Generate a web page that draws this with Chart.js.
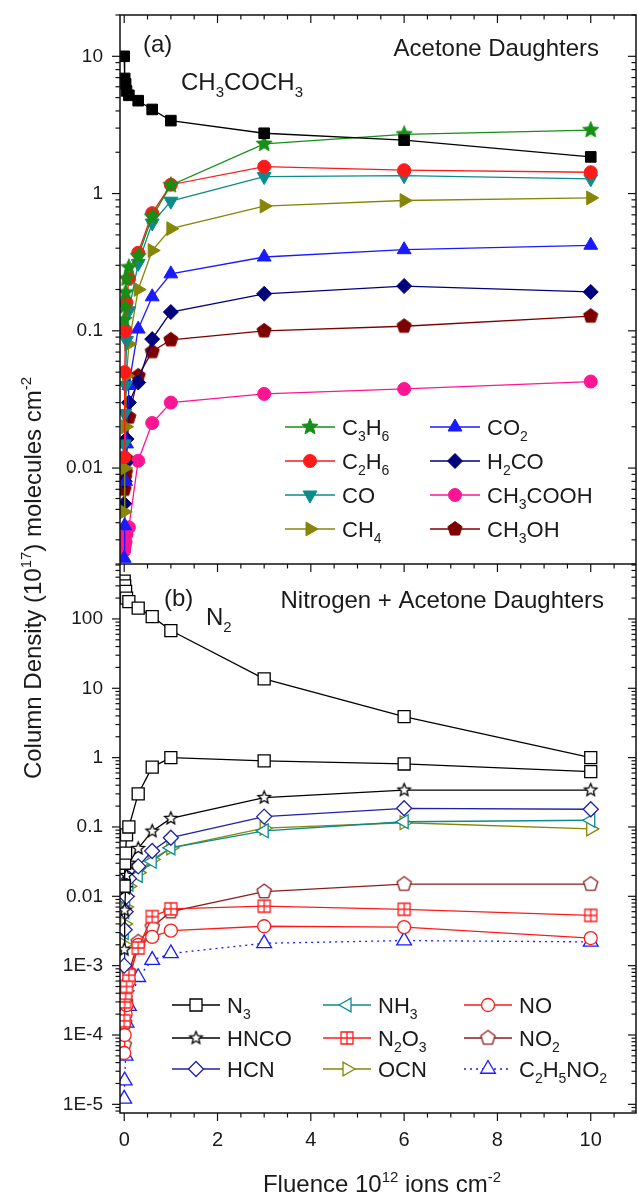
<!DOCTYPE html>
<html>
<head>
<meta charset="utf-8">
<script src="https://cdn.jsdelivr.net/npm/chart.js@4.4.1/dist/chart.umd.min.js"></script>
<style>
  html, body { margin: 0; padding: 0; background: #fff; }
  canvas { display: block; }
</style>
</head>
<body>
<canvas id="chart" width="638" height="1193"></canvas>
<script>
// fluence, 10^12 ions cm^-2
const fluence = [0, 0.01, 0.03, 0.05, 0.1, 0.3, 0.6, 1, 3, 6, 10];

// panel (a): acetone and its daughters, column density in 10^17 molecules cm^-2
const acetone = [10, 6.9, 6.3, 5.6, 5.2, 4.75, 4.1, 3.4, 2.75, 2.45, 1.85];
const c3h6 = [0.12, 0.15, 0.19, 0.24, 0.29, 0.35, 0.68, 1.15, 2.3, 2.7, 2.9];
const c2h6 = [0.012, 0.05, 0.1, 0.16, 0.24, 0.37, 0.72, 1.16, 1.57, 1.48, 1.43];
const co = [0.015, 0.025, 0.04, 0.085, 0.14, 0.31, 0.61, 0.88, 1.33, 1.35, 1.28];
const ch4 = [0.0048, 0.01, 0.02, 0.047, 0.08, 0.2, 0.385, 0.555, 0.81, 0.89, 0.93];
const co2 = [0.0022, 0.0038, 0.008, 0.015, 0.04, 0.103, 0.177, 0.26, 0.345, 0.39, 0.42];
const h2co = [0.0055, 0.008, 0.011, 0.0163, 0.03, 0.042, 0.087, 0.137, 0.186, 0.212, 0.192];
const ch3cooh = [0.0025, 0.0027, 0.0029, 0.0033, 0.0037, 0.0113, 0.0213, 0.03, 0.0347, 0.0377, 0.0427];
const ch3oh = [0.007, 0.0085, 0.0093, 0.0116, 0.0235, 0.047, 0.0706, 0.086, 0.1, 0.108, 0.128];

// panel (b): nitrogen + acetone daughters
const n2 = [350, 300, 250, 200, 178, 143, 108, 68, 13.7, 3.9, 1.0];
const n3 = [0.014, 0.03, 0.042, 0.077, 0.1, 0.3, 0.73, 1.0, 0.9, 0.81, 0.63];
const hnco = [0.0017, 0.0063, 0.013, 0.02, 0.03, 0.049, 0.087, 0.133, 0.265, 0.34, 0.34];
const hcn = [0.001, 0.0033, 0.006, 0.0099, 0.018, 0.027, 0.045, 0.07, 0.141, 0.186, 0.18];
const nh3 = [0.003, 0.006, 0.009, 0.012, 0.015, 0.02, 0.032, 0.05, 0.088, 0.119, 0.125];
const ocn = [0.002, 0.004, 0.007, 0.01, 0.014, 0.022, 0.034, 0.05, 0.096, 0.115, 0.094];
const n2o3 = [0.00016, 0.0003, 0.0004, 0.0005, 0.00073, 0.0018, 0.0051, 0.0066, 0.0072, 0.0065, 0.0053];
const no = [0.000055, 0.0001, 0.0002, 0.00027, 0.0006, 0.002, 0.0026, 0.0032, 0.0037, 0.0036, 0.0025];
const no2 = [0.000072, 0.00015, 0.0003, 0.0005, 0.0008, 0.0022, 0.0036, 0.006, 0.0117, 0.015, 0.015];
const c2h5no2 = [0.000012, 0.000022, 0.00005, 0.00015, 0.00026, 0.00068, 0.0012, 0.0015, 0.0021, 0.0023, 0.0022];

// axis ticks
const xTickStep = 2;
const xMinorStep = 0.5;

// legend columns, by dataset label
const legendA = [['C3H6', 'C2H6', 'CO', 'CH4'], ['CO2', 'H2CO', 'CH3COOH', 'CH3OH']];
const legendB = [['N3', 'HNCO', 'HCN'], ['NH3', 'N2O3', 'OCN'], ['NO', 'NO2', 'C2H5NO2']];

const FONT = "'Liberation Sans', Arial, sans-serif";
Chart.defaults.font.family = FONT;

// markers chart.js has no shape for
function markerCanvas(shape, r, stroke, fill, lw) {
  const size = Math.ceil(2 * r + lw + 2);
  const c = document.createElement('canvas');
  c.width = c.height = size;
  const g = c.getContext('2d');
  const cx = size / 2, cy = size / 2;
  g.beginPath();
  if (shape === 'star') {
    for (let i = 0; i < 10; i++) {
      const rr = i % 2 ? r * 0.45 : r;
      const a = -Math.PI / 2 + i * Math.PI / 5;
      g.lineTo(cx + rr * Math.cos(a), cy + rr * Math.sin(a));
    }
    g.closePath();
  } else if (shape === 'pentagon') {
    for (let i = 0; i < 5; i++) {
      const a = -Math.PI / 2 + i * 2 * Math.PI / 5;
      g.lineTo(cx + r * Math.cos(a), cy + r * Math.sin(a));
    }
    g.closePath();
  } else {
    g.rect(cx - r, cy - r, 2 * r, 2 * r);
  }
  g.fillStyle = fill;
  g.fill();
  g.lineWidth = lw;
  g.strokeStyle = stroke;
  g.stroke();
  if (shape === 'boxplus') {
    g.beginPath();
    g.moveTo(cx, cy - r); g.lineTo(cx, cy + r);
    g.moveTo(cx - r, cy); g.lineTo(cx + r, cy);
    g.stroke();
  }
  return c;
}

function ds(label, values, axis, color, mk, extra) {
  return Object.assign({
    label: label,
    data: fluence.map((x, i) => ({ x: x, y: values[i] })),
    yAxisID: axis,
    borderColor: color,
    borderWidth: 1.3,
    pointStyle: mk.style,
    pointRadius: mk.r,
    pointRotation: mk.rot || 0,
    pointBackgroundColor: mk.fill,
    pointBorderColor: color,
    pointBorderWidth: mk.lw,
    tension: 0
  }, extra || {});
}

const GREEN = '#158f15', RED = '#ff1a1a', TEAL = '#0b8b8b', OLIVE = '#868606';
const BLUE = '#1a1aff', NAVY = '#00007d', PINK = '#ff1493', MAROON = '#7d0000';

const datasets = [
  ds('CH3COCH3', acetone, 'yTop', '#000', { style: 'rect', r: 7.5, fill: '#000', lw: 1 }),
  ds('C3H6', c3h6, 'yTop', GREEN, { style: markerCanvas('star', 8.5, GREEN, GREEN, 1), r: 7, fill: GREEN, lw: 1 }),
  ds('C2H6', c2h6, 'yTop', RED, { style: 'circle', r: 6.5, fill: RED, lw: 1 }),
  ds('CO', co, 'yTop', TEAL, { style: 'triangle', r: 8, rot: 180, fill: TEAL, lw: 1 }),
  ds('CH4', ch4, 'yTop', OLIVE, { style: 'triangle', r: 8, rot: 90, fill: OLIVE, lw: 1 }),
  ds('CO2', co2, 'yTop', BLUE, { style: 'triangle', r: 8, fill: BLUE, lw: 1 }),
  ds('H2CO', h2co, 'yTop', NAVY, { style: 'rectRot', r: 7.5, fill: NAVY, lw: 1 }),
  ds('CH3COOH', ch3cooh, 'yTop', PINK, { style: 'circle', r: 6.5, fill: PINK, lw: 1 }),
  ds('CH3OH', ch3oh, 'yTop', MAROON, { style: markerCanvas('pentagon', 7.5, MAROON, MAROON, 1), r: 7, fill: MAROON, lw: 1 }),

  ds('N2', n2, 'yBot', '#000', { style: 'rect', r: 8.5, fill: '#fff', lw: 1.3 }),
  ds('N3', n3, 'yBot', '#000', { style: 'rect', r: 8.5, fill: '#fff', lw: 1.3 }),
  ds('HNCO', hnco, 'yBot', '#000', { style: markerCanvas('star', 6.5, '#000', '#fff', 1.3), r: 6, fill: '#fff', lw: 1.3 }),
  ds('HCN', hcn, 'yBot', '#2020a8', { style: 'rectRot', r: 7.5, fill: '#fff', lw: 1.3 }),
  ds('NH3', nh3, 'yBot', TEAL, { style: 'triangle', r: 8, rot: -90, fill: '#fff', lw: 1.3 }),
  ds('N2O3', n2o3, 'yBot', RED, { style: markerCanvas('boxplus', 6, RED, '#fff', 1.3), r: 6, fill: '#fff', lw: 1.3 }),
  ds('OCN', ocn, 'yBot', OLIVE, { style: 'triangle', r: 8, rot: 90, fill: '#fff', lw: 1.3 }),
  ds('NO', no, 'yBot', RED, { style: 'circle', r: 6.5, fill: '#fff', lw: 1.3 }),
  ds('NO2', no2, 'yBot', '#8a1c1c', { style: markerCanvas('pentagon', 7.5, '#8a1c1c', '#fff', 1.3), r: 7, fill: '#fff', lw: 1.3 }),
  ds('C2H5NO2', c2h5no2, 'yBot', BLUE, { style: 'triangle', r: 8.5, fill: '#fff', lw: 1.3 }, { borderDash: [2, 4] })
];

// rich text: ^{..} superscript, _{..} subscript, digits subscript in formulas
function parseRich(str, chem) {
  const out = [];
  const push = (t, k) => {
    const last = out[out.length - 1];
    if (last && last.k === k) last.t += t; else out.push({ t: t, k: k });
  };
  let i = 0;
  while (i < str.length) {
    const ch = str[i];
    if ((ch === '^' || ch === '_') && str[i + 1] === '{') {
      const j = str.indexOf('}', i);
      push(str.slice(i + 2, j), ch === '_' ? 1 : 2);
      i = j + 1;
    } else {
      push(ch, chem && /[0-9]/.test(ch) ? 1 : 0);
      i++;
    }
  }
  return out;
}

function drawRich(ctx, str, x, y, size, align, chem) {
  const runs = parseRich(str, chem);
  const small = Math.round(size * 0.62);
  let w = 0;
  runs.forEach(r => {
    ctx.font = (r.k ? small : size) + 'px ' + FONT;
    r.w = ctx.measureText(r.t).width;
    w += r.w;
  });
  let cx = align === 'right' ? x - w : align === 'center' ? x - w / 2 : x;
  ctx.textAlign = 'left';
  ctx.textBaseline = 'alphabetic';
  runs.forEach(r => {
    ctx.font = (r.k ? small : size) + 'px ' + FONT;
    const dy = r.k === 1 ? size * 0.28 : r.k === 2 ? -size * 0.42 : 0;
    ctx.fillText(r.t, cx, y + dy);
    cx += r.w;
  });
}

function line(ctx, x0, y0, x1, y1) {
  ctx.beginPath();
  ctx.moveTo(x0, y0);
  ctx.lineTo(x1, y1);
  ctx.stroke();
}

function drawMarker(ctx, d, x, y) {
  ctx.fillStyle = d.pointBackgroundColor;
  ctx.strokeStyle = d.pointBorderColor;
  ctx.lineWidth = d.pointBorderWidth;
  Chart.helpers.drawPoint(ctx, {
    pointStyle: d.pointStyle,
    rotation: d.pointRotation,
    radius: d.pointRadius,
    borderWidth: d.pointBorderWidth
  }, x, y);
}

function drawLegend(ctx, chart, columns, cols, rows, half) {
  const byLabel = {};
  chart.data.datasets.forEach(d => { byLabel[d.label] = d; });
  columns.forEach((col, ci) => {
    col.forEach((name, ri) => {
      const d = byLabel[name];
      const mx = cols[ci], y = rows[ri];
      ctx.save();
      ctx.strokeStyle = d.borderColor;
      ctx.lineWidth = d.borderWidth;
      ctx.setLineDash(d.borderDash || []);
      line(ctx, mx - half, y, mx + half, y);
      ctx.setLineDash([]);
      drawMarker(ctx, d, mx, y);
      ctx.fillStyle = '#1a1a1a';
      drawRich(ctx, name, mx + half + 7, y + 8, 22, 'left', true);
      ctx.restore();
    });
  });
}

const decor = {
  id: 'decor',
  afterDraw(chart) {
    const ctx = chart.ctx;
    const { left, right } = chart.chartArea;
    const xs = chart.scales.x, yt = chart.scales.yTop, yb = chart.scales.yBot;
    ctx.save();
    ctx.strokeStyle = '#111';
    ctx.lineWidth = 1.5;
    ctx.strokeRect(left, yt.top, right - left, yb.bottom - yt.top);
    line(ctx, left, yt.bottom, right, yt.bottom);

    ctx.lineWidth = 1.2;
    [yt, yb].forEach(s => {
      const e0 = Math.floor(Math.log10(s.min)), e1 = Math.ceil(Math.log10(s.max));
      for (let e = e0; e <= e1; e++) {
        for (let m = 1; m <= 9; m++) {
          const v = m * Math.pow(10, e);
          if (v < s.min || v > s.max) continue;
          const y = s.getPixelForValue(v);
          const len = m === 1 ? 8 : 4.5;
          line(ctx, left - len, y, left, y);
          line(ctx, right - len, y, right, y);
        }
      }
    });
    for (let k = 0; k * xMinorStep <= xs.max; k++) {
      const v = k * xMinorStep;
      const x = xs.getPixelForValue(v);
      const major = Math.abs(v / xTickStep - Math.round(v / xTickStep)) < 1e-9;
      const len = major ? 8 : 4.5;
      line(ctx, x, yb.bottom, x, yb.bottom + len);
      line(ctx, x, yt.bottom, x, yt.bottom + len);
      line(ctx, x, yt.top, x, yt.top + len);
    }

    ctx.fillStyle = '#1a1a1a';
    drawRich(ctx, '(a)', 143, 52, 24, 'left', false);
    drawRich(ctx, 'Acetone Daughters', 599, 56, 24, 'right', false);
    drawRich(ctx, 'CH3COCH3', 181, 90, 24, 'left', true);
    drawRich(ctx, '(b)', 164, 606, 24, 'left', false);
    drawRich(ctx, 'Nitrogen + Acetone Daughters', 604, 608, 24, 'right', false);
    drawRich(ctx, 'N2', 206, 625, 24, 'left', true);

    drawRich(ctx, 'Fluence 10^{12} ions cm^{-2}', (left + right) / 2 + 4, 1192, 24, 'center', false);
    ctx.save();
    ctx.translate(41, 578);
    ctx.rotate(-Math.PI / 2);
    drawRich(ctx, 'Column Density (10^{17}) molecules cm^{-2}', 0, 0, 24, 'center', false);
    ctx.restore();

    drawLegend(ctx, chart, legendA, [310, 455], [427, 461, 495, 529], 25);
    drawLegend(ctx, chart, legendB, [196, 347, 488], [1005, 1038, 1069], 24);
    ctx.restore();
  }
};

function decadeLabel(v, sci) {
  const lg = Math.log10(v);
  const e = Math.round(lg);
  if (Math.abs(lg - e) > 1e-6) return '';
  if (e >= 0) return String(Math.pow(10, e));
  if (sci && e <= -3) return '1E' + e;
  return '0.' + '0'.repeat(-e - 1) + '1';
}

function logAxis(min, max, weight, sci) {
  return {
    type: 'logarithmic',
    position: 'left',
    stack: 'panels',
    stackWeight: 1,
    weight: weight,
    min: min,
    max: max,
    grid: { display: false, drawTicks: false },
    border: { display: false },
    ticks: {
      autoSkip: false,
      padding: 17,
      color: '#1a1a1a',
      font: { size: 19 },
      callback: v => decadeLabel(v, sci)
    },
    afterFit: s => { s.width = 120; s.paddingTop = 0; s.paddingBottom = 0; }
  };
}

new Chart(document.getElementById('chart'), {
  type: 'line',
  data: { datasets: datasets },
  options: {
    responsive: false,
    animation: false,
    layout: { autoPadding: false, padding: { top: 15, right: 2, left: 0, bottom: 0 } },
    plugins: { legend: { display: false }, tooltip: { enabled: false } },
    scales: {
      x: {
        type: 'linear',
        min: -0.09,
        max: 10.97,
        grid: { display: false, drawTicks: false },
        border: { display: false },
        ticks: {
          stepSize: xTickStep,
          includeBounds: false,
          autoSkip: false,
          padding: 15,
          color: '#1a1a1a',
          font: { size: 20 },
          callback: v => (Math.abs(v - Math.round(v)) < 1e-9 ? String(Math.round(v)) : '')
        },
        afterFit: s => { s.height = 80; s.paddingLeft = 0; s.paddingRight = 0; }
      },
      yTop: logAxis(0.002, 20, 2, false),
      yBot: logAxis(7.5e-6, 620, 1, true)
    }
  },
  plugins: [decor]
});
</script>
</body>
</html>
